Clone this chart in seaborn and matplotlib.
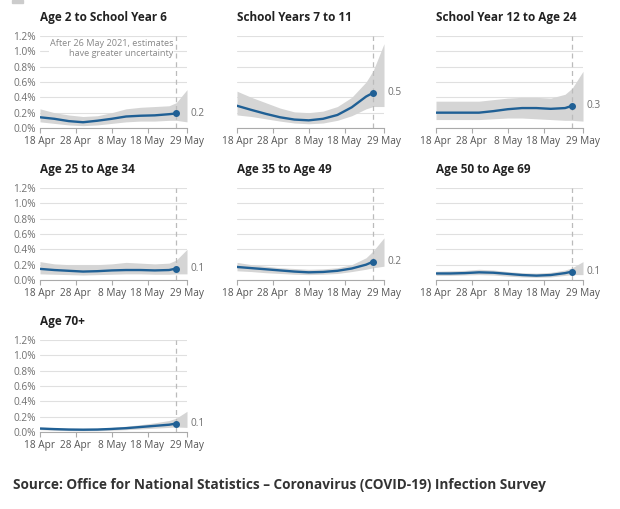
import pandas as pd
import matplotlib.pyplot as plt
import matplotlib.patches as mpatches
import seaborn as sns

# estimates every 4 days, last modelled point 26 May; bands run on to 29 May
dates = pd.to_datetime(['2021-04-18', '2021-04-22', '2021-04-26', '2021-04-30', '2021-05-04', '2021-05-08',
                        '2021-05-12', '2021-05-16', '2021-05-20', '2021-05-24', '2021-05-26'])
band_dates = dates.append(pd.to_datetime(['2021-05-29']))

groups = ['Age 2 to School Year 6', 'School Years 7 to 11', 'School Year 12 to Age 24',
          'Age 25 to Age 34', 'Age 35 to Age 49', 'Age 50 to Age 69', 'Age 70+']
end_labels = ['0.2', '0.5', '0.3', '0.1', '0.2', '0.1', '0.1']

est_y2_y6 = [0.14, 0.12, 0.09, 0.075, 0.095, 0.12, 0.15, 0.16, 0.165, 0.18, 0.19]
lo_y2_y6 = [0.08, 0.06, 0.04, 0.03, 0.04, 0.06, 0.08, 0.09, 0.09, 0.10, 0.10, 0.08]
hi_y2_y6 = [0.25, 0.20, 0.17, 0.15, 0.16, 0.20, 0.25, 0.27, 0.28, 0.29, 0.33, 0.50]

est_y7_y11 = [0.29, 0.236, 0.185, 0.14, 0.11, 0.10, 0.12, 0.17, 0.27, 0.41, 0.46]
lo_y7_y11 = [0.17, 0.15, 0.12, 0.09, 0.065, 0.055, 0.065, 0.10, 0.16, 0.25, 0.28, 0.28]
hi_y7_y11 = [0.48, 0.40, 0.33, 0.26, 0.21, 0.20, 0.22, 0.28, 0.40, 0.60, 0.75, 1.10]

est_y12_24 = [0.20, 0.20, 0.20, 0.20, 0.22, 0.245, 0.26, 0.26, 0.25, 0.26, 0.29]
lo_y12_24 = [0.11, 0.11, 0.11, 0.11, 0.12, 0.13, 0.13, 0.12, 0.11, 0.10, 0.10, 0.09]
hi_y12_24 = [0.35, 0.35, 0.35, 0.35, 0.37, 0.39, 0.40, 0.40, 0.39, 0.44, 0.52, 0.74]

est_25_34 = [0.145, 0.13, 0.12, 0.11, 0.115, 0.125, 0.13, 0.13, 0.125, 0.13, 0.15]
lo_25_34 = [0.08, 0.075, 0.07, 0.065, 0.07, 0.075, 0.08, 0.08, 0.075, 0.075, 0.08, 0.08]
hi_25_34 = [0.24, 0.21, 0.20, 0.20, 0.20, 0.21, 0.23, 0.22, 0.21, 0.22, 0.26, 0.40]

est_35_49 = [0.17, 0.155, 0.14, 0.125, 0.11, 0.10, 0.105, 0.12, 0.15, 0.20, 0.24]
lo_35_49 = [0.12, 0.11, 0.095, 0.085, 0.075, 0.07, 0.075, 0.085, 0.11, 0.14, 0.16, 0.18]
hi_35_49 = [0.23, 0.20, 0.18, 0.16, 0.15, 0.14, 0.145, 0.16, 0.20, 0.29, 0.38, 0.55]

est_50_69 = [0.085, 0.085, 0.09, 0.10, 0.095, 0.08, 0.065, 0.057, 0.065, 0.09, 0.11]
lo_50_69 = [0.06, 0.06, 0.065, 0.07, 0.065, 0.05, 0.04, 0.035, 0.04, 0.06, 0.07, 0.07]
hi_50_69 = [0.115, 0.12, 0.125, 0.14, 0.13, 0.11, 0.095, 0.09, 0.10, 0.13, 0.16, 0.24]

est_70 = [0.045, 0.038, 0.032, 0.03, 0.032, 0.04, 0.05, 0.065, 0.08, 0.095, 0.11]
lo_70 = [0.03, 0.022, 0.018, 0.015, 0.017, 0.022, 0.03, 0.04, 0.05, 0.06, 0.065, 0.06]
hi_70 = [0.065, 0.055, 0.05, 0.048, 0.05, 0.06, 0.075, 0.095, 0.12, 0.15, 0.18, 0.27]

series = {
    groups[0]: (est_y2_y6, lo_y2_y6, hi_y2_y6),
    groups[1]: (est_y7_y11, lo_y7_y11, hi_y7_y11),
    groups[2]: (est_y12_24, lo_y12_24, hi_y12_24),
    groups[3]: (est_25_34, lo_25_34, hi_25_34),
    groups[4]: (est_35_49, lo_35_49, hi_35_49),
    groups[5]: (est_50_69, lo_50_69, hi_50_69),
    groups[6]: (est_70, lo_70, hi_70),
}

x_ticks = pd.to_datetime(['2021-04-18', '2021-04-28', '2021-05-08', '2021-05-18', '2021-05-29'])
x_tick_labels = ['18 Apr', '28 Apr', '8 May', '18 May', '29 May']
y_ticks = [0.0, 0.2, 0.4, 0.6, 0.8, 1.0, 1.2]
cutoff = pd.Timestamp('2021-05-26')

sns.set_theme(style='white')
plt.rcParams['font.family'] = ['Open Sans', 'DejaVu Sans']

BLUE = '#206095'
GREY_TXT = '#707070'
TICK_FS = 7.3

W, H = 620, 509
fig = plt.figure(figsize=(W / 100, H / 100), dpi=100)

# panel positions in pixels (left, top)
pos = [(40, 36), (237, 36), (436, 36), (40, 188), (237, 188), (436, 188), (40, 340)]
aw, ah = 147, 92

for i, g in enumerate(groups):
    l, t = pos[i]
    ax = fig.add_axes([l / W, 1 - (t + ah) / H, aw / W, ah / H])
    est, lo, hi = series[g]

    ax.fill_between(band_dates, lo, hi, color='#d5d5d5', lw=0, zorder=2)
    sns.lineplot(x=dates, y=est, ax=ax, color=BLUE, lw=1.7, zorder=4)
    ax.plot(dates[-1], est[-1], 'o', color=BLUE, ms=4, zorder=5)
    ax.axvline(cutoff, color='#bbbbbb', lw=0.9, ls=(0, (4, 3)), zorder=3)
    ax.annotate(end_labels[i], xy=(dates[-1], est[-1]), xytext=(10, 0), textcoords='offset points',
                ha='left', va='center', fontsize=TICK_FS, color=GREY_TXT)

    ax.set_xlim(x_ticks[0], x_ticks[-1])
    ax.set_ylim(0, 1.2)
    ax.set_xticks(x_ticks)
    ax.set_xticklabels(x_tick_labels)
    ax.set_yticks(y_ticks)
    ax.set_yticklabels([f'{v:.1f}%' for v in y_ticks])
    ax.set_xlabel('')
    ax.set_ylabel('')
    ax.grid(axis='y', color='#e0e0e0', lw=0.8)
    ax.set_axisbelow(True)
    for s in ['top', 'right', 'left']:
        ax.spines[s].set_visible(False)
    ax.spines['bottom'].set_color('#aaaaaa')
    ax.spines['bottom'].set_linewidth(0.8)
    ax.tick_params(axis='x', bottom=True, length=3.5, width=0.8, color='#aaaaaa',
                   labelsize=TICK_FS, labelcolor='#555555', pad=2.5)
    ax.tick_params(axis='y', left=False, length=0, labelsize=TICK_FS, labelcolor=GREY_TXT, pad=3,
                   labelleft=(l == 40))
    ax.set_title(g, loc='left', fontsize=8.5, fontweight='bold', color='#222222', pad=11)

    if i == 0:
        ax.text(cutoff - pd.Timedelta(days=0.8), 1.16,
                'After 26 May 2021, estimates\nhave greater uncertainty',
                ha='right', va='top', fontsize=6.6, color='#888888', linespacing=1.2, zorder=6,
                bbox=dict(facecolor='white', edgecolor='none', pad=0.5))

# clipped legend key at the very top
fig.patches.append(mpatches.Rectangle((12 / W, 1 - 3 / H), 11 / W, 3 / H, transform=fig.transFigure,
                                      color='#cccccc'))

fig.text(13 / W, 1 - 485 / H,
         'Source: Office for National Statistics \u2013 Coronavirus (COVID-19) Infection Survey',
         ha='left', va='center', fontsize=9.8, fontweight='bold', color='#333333')

fig.savefig('out.png', dpi=100)
